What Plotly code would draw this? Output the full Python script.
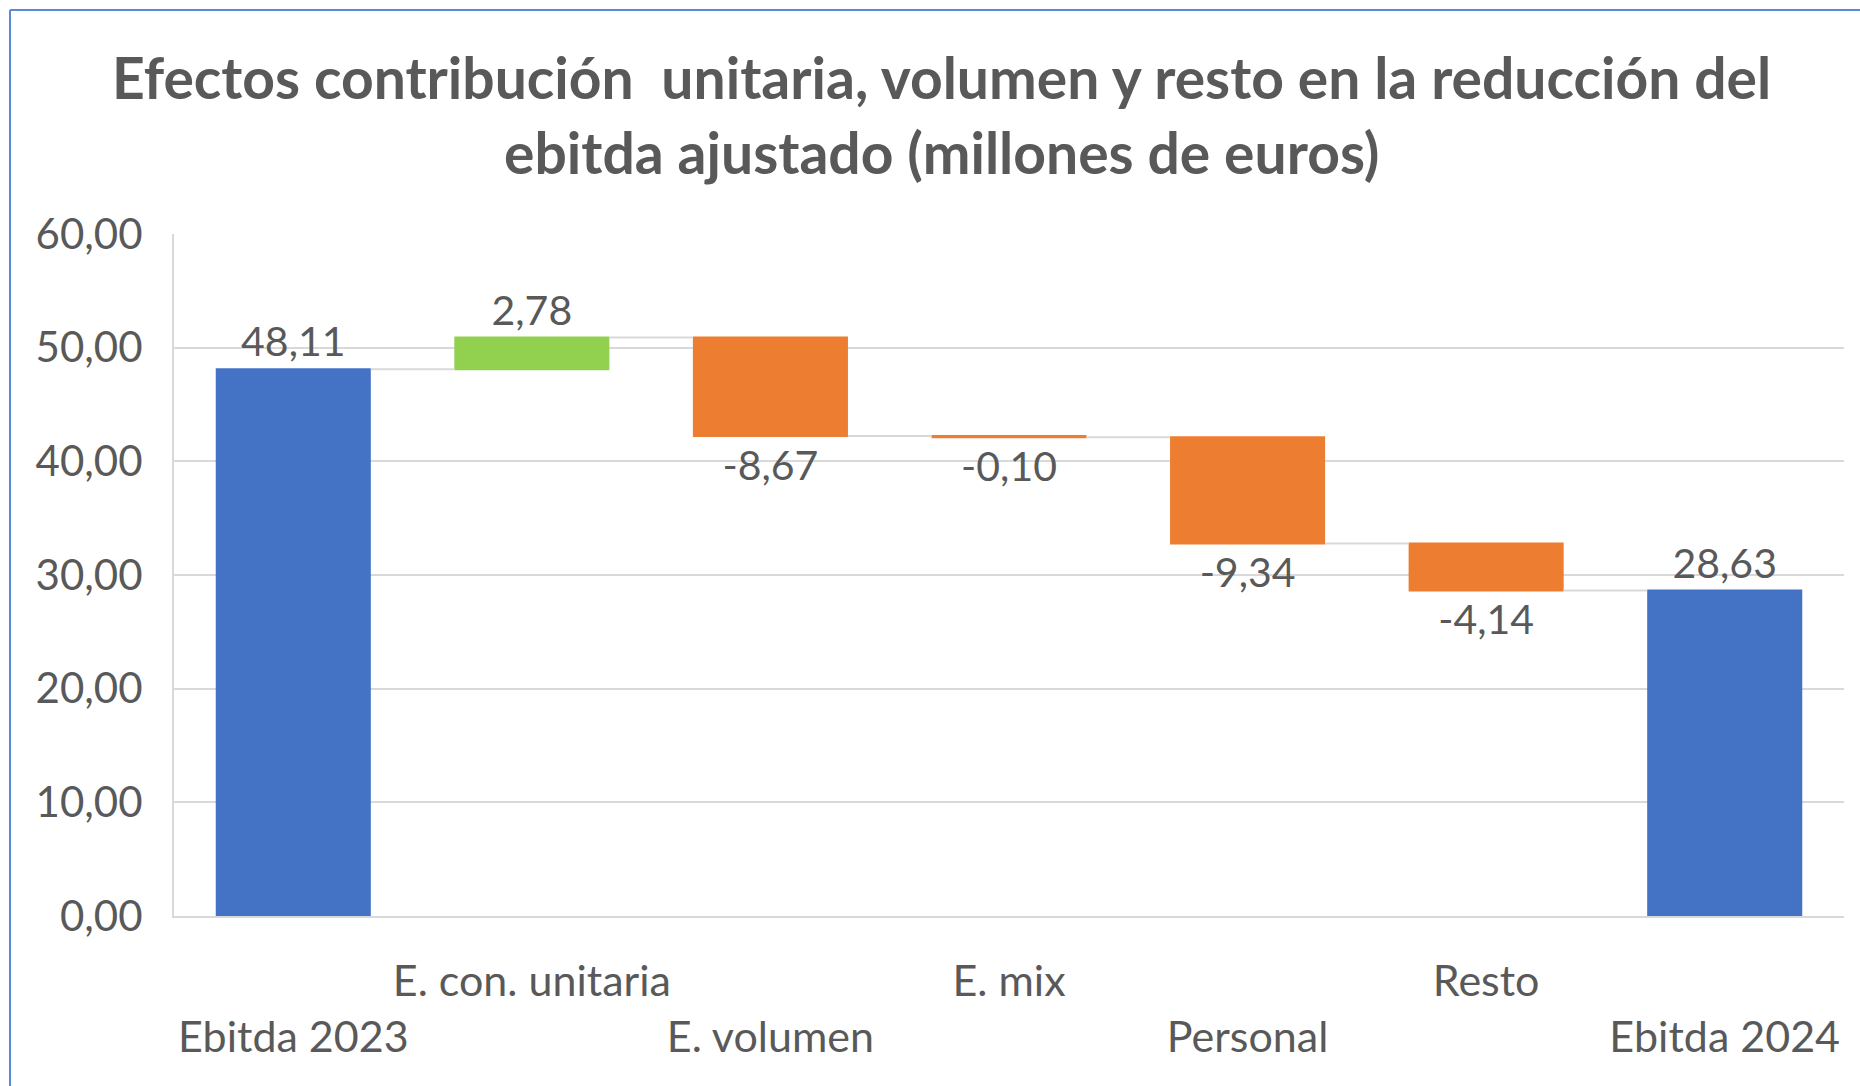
import plotly.graph_objects as go

categories = ["Ebitda 2023", "E. con. unitaria", "E. volumen", "E. mix", "Personal", "Resto", "Ebitda 2024"]
values = [48.11, 2.78, -8.67, -0.10, -9.34, -4.14, 28.63]
measures = ["absolute", "relative", "relative", "relative", "relative", "relative", "absolute"]
y_ticks = [0, 10, 20, 30, 40, 50, 60]
title_line1 = "Efectos contribución  unitaria, volumen y resto en la reducción del"
title_line2 = "ebitda ajustado (millones de euros)"

FONT = "Lato"
GREY = "#595959"

labels = [f"{v:.2f}".replace(".", ",") for v in values]
# staggered category labels like Excel
ticktext = [c if i % 2 == 1 else "<br>" + c for i, c in enumerate(categories)]

W, H = 1860, 1086
L, R, T, B = 174, 16, 234, 170
pw, ph = W - L - R, H - T - B

fig = go.Figure(go.Waterfall(
    x=categories,
    y=values,
    measure=measures,
    text=labels,
    textposition="outside",
    textfont=dict(family=FONT, size=41, color=GREY),
    cliponaxis=False,
    increasing=dict(marker=dict(color="#92D050")),
    decreasing=dict(marker=dict(color="#ED7D31")),
    totals=dict(marker=dict(color="#4472C4")),
    connector=dict(mode="between", line=dict(color="#D9D9D9", width=2)),
    hoverinfo="skip",
))

def px_x(x):
    return (x - L) / pw

def px_y(y):
    return (H - B - y) / ph

fig.update_layout(
    width=W, height=H,
    margin=dict(l=L, r=R, t=T, b=B, pad=0, autoexpand=False),
    paper_bgcolor="white", plot_bgcolor="white",
    separators=",.",
    showlegend=False,
    waterfallgap=0.35,
    font=dict(family=FONT, color=GREY),
    xaxis=dict(
        tickmode="array", tickvals=categories, ticktext=ticktext,
        tickfont=dict(family=FONT, size=43, color=GREY), tickangle=0,
        showgrid=False, showline=True, linecolor="#D9D9D9", linewidth=2,
        ticks="", ticklabelstandoff=26, fixedrange=True, automargin=False,
    ),
    yaxis=dict(
        range=[0, 60], tickvals=y_ticks, tickformat=".2f",
        tickfont=dict(family=FONT, size=42, color=GREY),
        showgrid=True, gridcolor="#D9D9D9", gridwidth=2,
        showline=True, linecolor="#D9D9D9", linewidth=2,
        zeroline=False, ticks="", ticklabelstandoff=21, fixedrange=True, automargin=False,
    ),
    annotations=[
        dict(text=f"<b>{title_line1}</b>", xref="paper", yref="paper",
             x=px_x(941), y=px_y(77), xanchor="center", yanchor="middle",
             showarrow=False, font=dict(family=FONT, size=57, color=GREY)),
        dict(text=f"<b>{title_line2}</b>", xref="paper", yref="paper",
             x=px_x(941), y=px_y(152), xanchor="center", yanchor="middle",
             showarrow=False, font=dict(family=FONT, size=57, color=GREY)),
    ],
    shapes=[
        dict(type="line", xref="paper", yref="paper", x0=px_x(10), x1=px_x(1860),
             y0=px_y(10), y1=px_y(10), line=dict(color="#5B8AD6", width=2)),
        dict(type="line", xref="paper", yref="paper", x0=px_x(10), x1=px_x(10),
             y0=px_y(10), y1=px_y(1086), line=dict(color="#5B8AD6", width=2)),
    ],
)

fig.write_html("out.html", config={"displayModeBar": False},
               post_script="document.body.style.margin='0';document.body.style.overflow='hidden';")
